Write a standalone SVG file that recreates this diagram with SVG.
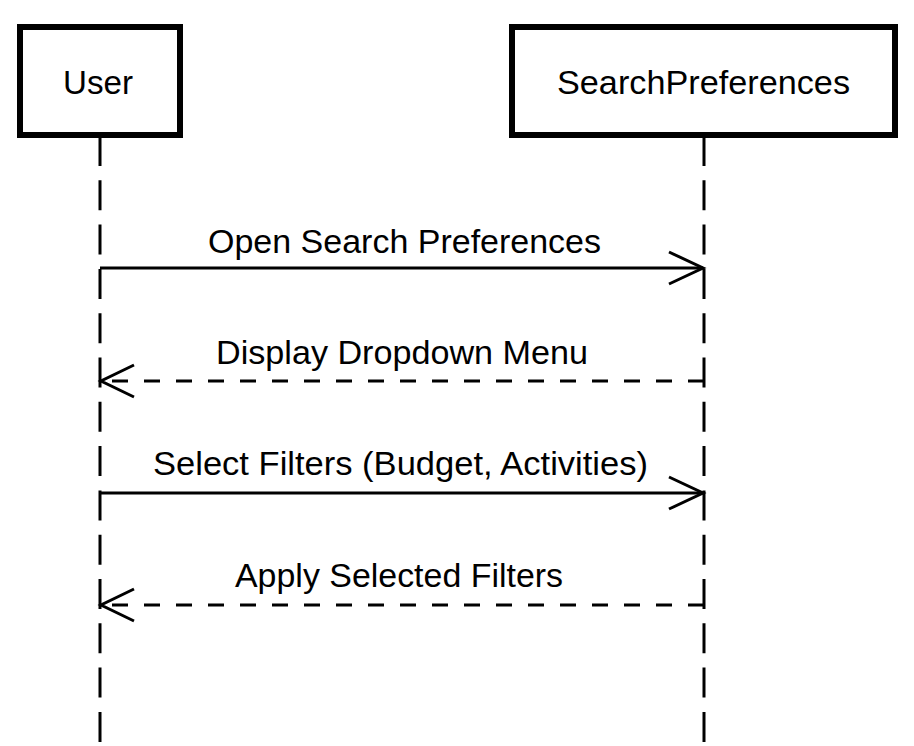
<svg xmlns="http://www.w3.org/2000/svg" width="914" height="746" viewBox="0 0 914 746">
<style>
.box{fill:#fff;stroke:#000;stroke-width:6}
.life{stroke:#000;stroke-width:3;stroke-dasharray:30 14.3;fill:none}
.msg{stroke:#000;stroke-width:3;fill:none}
.ret{stroke:#000;stroke-width:3;fill:none;stroke-dasharray:16 16}
.head{stroke:#000;stroke-width:3;fill:none}
text{font-family:"Liberation Sans",Arial,sans-serif;font-size:33px;fill:#000;text-anchor:middle}
</style>
<rect width="914" height="746" fill="#fff"/>
<g id="lifelines">
<line class="life" x1="100" y1="136" x2="100" y2="746"/>
<line class="life" x1="704" y1="136" x2="704" y2="746"/>
</g>
<g id="User">
<rect class="box" x="20" y="27" width="160" height="108"/>
<text x="98" y="94" textLength="70" lengthAdjust="spacingAndGlyphs">User</text>
</g>
<g id="SearchPreferences">
<rect class="box" x="512" y="27" width="383" height="108"/>
<text x="703.5" y="94" textLength="293" lengthAdjust="spacingAndGlyphs">SearchPreferences</text>
</g>
<g id="connectors">
<line class="msg" x1="100" y1="268" x2="703" y2="268"/>
<polyline class="head" points="669,252 703,268 669,284"/>
<text x="404.5" y="253" textLength="393" lengthAdjust="spacingAndGlyphs">Open Search Preferences</text>
<line class="ret" x1="704" y1="381" x2="101" y2="381"/>
<polyline class="head" points="134,365 101,381 134,397"/>
<text x="402" y="364" textLength="372" lengthAdjust="spacingAndGlyphs">Display Dropdown Menu</text>
<line class="msg" x1="100" y1="493" x2="703" y2="493"/>
<polyline class="head" points="669,477 703,493 669,509"/>
<text x="400.5" y="475" textLength="495" lengthAdjust="spacingAndGlyphs">Select Filters (Budget, Activities)</text>
<line class="ret" x1="704" y1="605" x2="101" y2="605"/>
<polyline class="head" points="134,589 101,605 134,621"/>
<text x="399" y="587" textLength="328" lengthAdjust="spacingAndGlyphs">Apply Selected Filters</text>
</g>
</svg>
